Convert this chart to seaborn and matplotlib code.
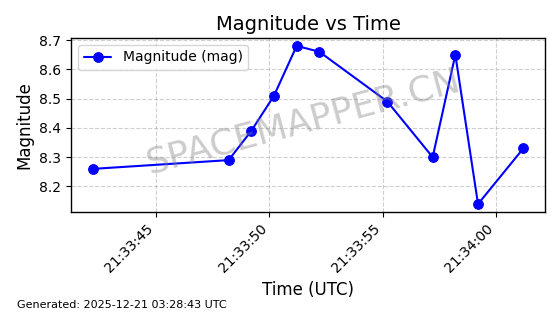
import matplotlib
matplotlib.use("Agg")
import matplotlib.pyplot as plt
import matplotlib.dates as mdates
import seaborn as sns
import pandas as pd

times = ["21:33:42.2", "21:33:48.2", "21:33:49.2", "21:33:50.2", "21:33:51.2",
         "21:33:52.2", "21:33:55.2", "21:33:57.2", "21:33:58.2", "21:33:59.2",
         "21:34:01.2"]
magnitudes = [8.26, 8.29, 8.39, 8.51, 8.68, 8.66, 8.49, 8.30, 8.65, 8.14, 8.33]

df = pd.DataFrame({
    "time": pd.to_datetime(["2025-12-20 " + t for t in times]),
    "mag": magnitudes,
})

sns.set_style("white")
plt.rcParams["font.family"] = ["DejaVu Sans"]
plt.rcParams["text.color"] = "black"
plt.rcParams["axes.labelcolor"] = "black"
plt.rcParams["xtick.color"] = "black"
plt.rcParams["ytick.color"] = "black"

fig = plt.figure(figsize=(5.6, 3.14), dpi=100)
ax = fig.add_axes([0.127, 0.325, 0.846, 0.554])

sns.lineplot(data=df, x="time", y="mag", ax=ax, color="blue", marker="o",
             markersize=7, markeredgecolor="blue", linewidth=1.5,
             label="Magnitude (mag)")

ax.set_title("Magnitude vs Time", fontsize=14, color="black")
ax.set_xlabel("Time (UTC)", fontsize=12, color="black")
ax.set_ylabel("Magnitude", fontsize=12, color="black")
ax.xaxis.set_major_formatter(mdates.DateFormatter("%H:%M:%S"))
ax.xaxis.set_major_locator(mdates.SecondLocator(bysecond=range(0, 60, 5)))
ax.set_yticks([8.2, 8.3, 8.4, 8.5, 8.6, 8.7])
for lbl in ax.get_xticklabels():
    lbl.set_rotation(45)
    lbl.set_ha("right")
ax.tick_params(axis="both", labelsize=10, direction="out", length=3.5, width=0.8,
               bottom=True, left=True, colors="black")
ax.grid(True, linestyle="--", alpha=0.6, color="#b0b0b0")
for s in ax.spines.values():
    s.set_color("black")
    s.set_linewidth(1.0)
leg = ax.legend(loc="upper left", fontsize=10, frameon=True)
for t in leg.get_texts():
    t.set_color("black")

ax.text(0.49, 0.52, "SPACEMAPPER.CN", transform=ax.transAxes, fontsize=26,
        color="gray", alpha=0.4, rotation=15, ha="center", va="center")

fig.text(0.03, 0.02, "Generated: 2025-12-21 03:28:43 UTC", fontsize=8, color="black")

fig.savefig("out.png", dpi=100)
